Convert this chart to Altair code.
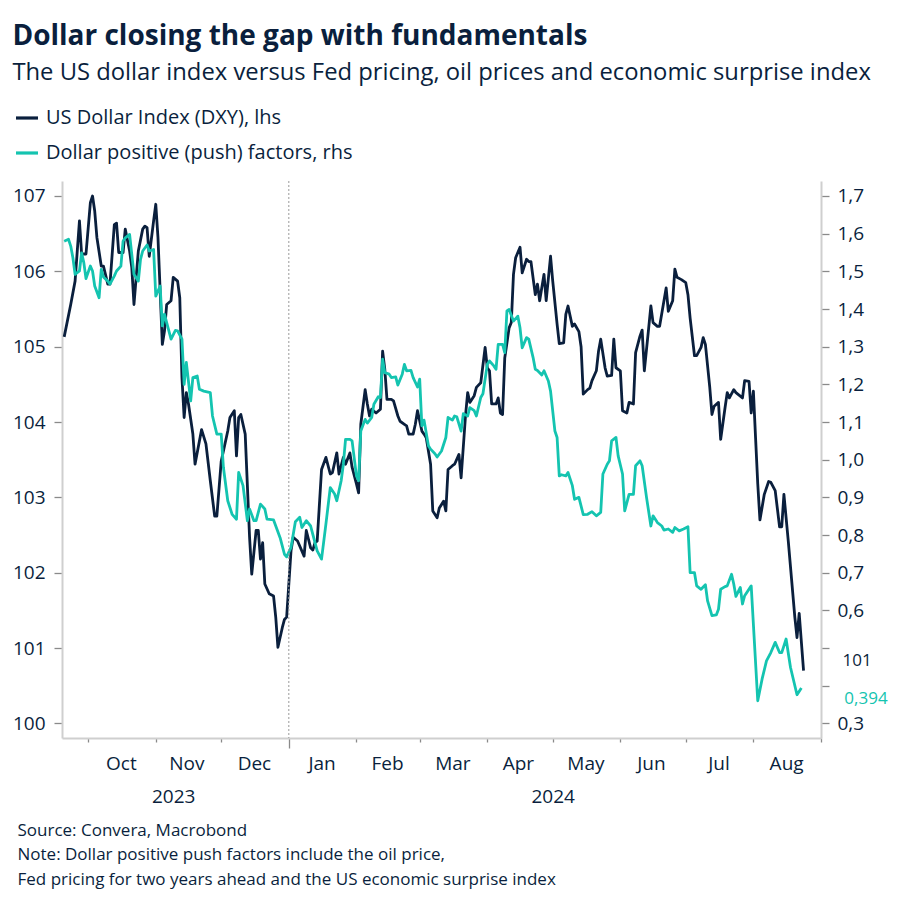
import altair as alt
import pandas as pd

NAVY = "#0a1f3d"
TEAL = "#14c4b0"
AXIS_GREY = "#cfcfcf"
TICK_GREY = "#8a8a8a"
FONT = "Open Sans"

# ---- US Dollar Index (DXY), left axis ----
dxy_dates = [
    "2023-09-20", "2023-09-23", "2023-09-25", "2023-09-27", "2023-09-28", "2023-09-30",
    "2023-10-02", "2023-10-03", "2023-10-04", "2023-10-05", "2023-10-07", "2023-10-08",
    "2023-10-10", "2023-10-11", "2023-10-13", "2023-10-14", "2023-10-15", "2023-10-17",
    "2023-10-18", "2023-10-20", "2023-10-21", "2023-10-22", "2023-10-24", "2023-10-26",
    "2023-10-27", "2023-10-28", "2023-10-29", "2023-10-31", "2023-11-01", "2023-11-02",
    "2023-11-04", "2023-11-05", "2023-11-06", "2023-11-08", "2023-11-09", "2023-11-11",
    "2023-11-12", "2023-11-13", "2023-11-14", "2023-11-15", "2023-11-16", "2023-11-18",
    "2023-11-19", "2023-11-22", "2023-11-24", "2023-11-26", "2023-11-28", "2023-11-29",
    "2023-12-01", "2023-12-04", "2023-12-05", "2023-12-07", "2023-12-08", "2023-12-09",
    "2023-12-10", "2023-12-12", "2023-12-14", "2023-12-15", "2023-12-17", "2023-12-18",
    "2023-12-19", "2023-12-20", "2023-12-21", "2023-12-23", "2023-12-25", "2023-12-26",
    "2023-12-27", "2023-12-29", "2023-12-30", "2023-12-31", "2024-01-02", "2024-01-03",
    "2024-01-05", "2024-01-08", "2024-01-09", "2024-01-11", "2024-01-12", "2024-01-13",
    "2024-01-14", "2024-01-16", "2024-01-18", "2024-01-20", "2024-01-21", "2024-01-23",
    "2024-01-24", "2024-01-26", "2024-01-27", "2024-01-29", "2024-01-30", "2024-02-01",
    "2024-02-02", "2024-02-03", "2024-02-05", "2024-02-06", "2024-02-07", "2024-02-08",
    "2024-02-10", "2024-02-12", "2024-02-13", "2024-02-14", "2024-02-15", "2024-02-17",
    "2024-02-18", "2024-02-20", "2024-02-21", "2024-02-23", "2024-02-24", "2024-02-25",
    "2024-02-27", "2024-02-28", "2024-02-29", "2024-03-02", "2024-03-03", "2024-03-04",
    "2024-03-06", "2024-03-07", "2024-03-09", "2024-03-10", "2024-03-12", "2024-03-13",
    "2024-03-14", "2024-03-16", "2024-03-17", "2024-03-19", "2024-03-20", "2024-03-22",
    "2024-03-23", "2024-03-24", "2024-03-26", "2024-03-27", "2024-03-29", "2024-03-31",
    "2024-04-01", "2024-04-02", "2024-04-03", "2024-04-05", "2024-04-06", "2024-04-07",
    "2024-04-08", "2024-04-09", "2024-04-11", "2024-04-12", "2024-04-13", "2024-04-14",
    "2024-04-16", "2024-04-17", "2024-04-19", "2024-04-20", "2024-04-21", "2024-04-23",
    "2024-04-24", "2024-04-25", "2024-04-27", "2024-04-28", "2024-04-30", "2024-05-01",
    "2024-05-03", "2024-05-04", "2024-05-06", "2024-05-07", "2024-05-08", "2024-05-10",
    "2024-05-11", "2024-05-13", "2024-05-14", "2024-05-15", "2024-05-17", "2024-05-18",
    "2024-05-19", "2024-05-21", "2024-05-22", "2024-05-23", "2024-05-25", "2024-05-26",
    "2024-05-28", "2024-05-29", "2024-05-30", "2024-06-01", "2024-06-02", "2024-06-04",
    "2024-06-05", "2024-06-07", "2024-06-08", "2024-06-10", "2024-06-11", "2024-06-12",
    "2024-06-14", "2024-06-15", "2024-06-16", "2024-06-18", "2024-06-19", "2024-06-21",
    "2024-06-22", "2024-06-23", "2024-06-25", "2024-06-26", "2024-06-27", "2024-06-29",
    "2024-07-01", "2024-07-02", "2024-07-03", "2024-07-05", "2024-07-06", "2024-07-08",
    "2024-07-09", "2024-07-10", "2024-07-12", "2024-07-13", "2024-07-14", "2024-07-16",
    "2024-07-17", "2024-07-19", "2024-07-20", "2024-07-21", "2024-07-23", "2024-07-24",
    "2024-07-27", "2024-07-28", "2024-07-30", "2024-07-31", "2024-08-01", "2024-08-02",
    "2024-08-03", "2024-08-04", "2024-08-06", "2024-08-08", "2024-08-09", "2024-08-11",
    "2024-08-13", "2024-08-14", "2024-08-15", "2024-08-17", "2024-08-20", "2024-08-21",
    "2024-08-22", "2024-08-24",
]
dxy_values = [
    105.13, 105.56, 105.87, 106.67, 106.23, 106.23,
    106.91, 107.00, 106.80, 106.45, 106.07, 106.07,
    105.83, 105.83, 106.62, 106.64, 106.25, 106.25,
    106.56, 106.27, 106.05, 105.56, 106.27, 106.56,
    106.60, 106.58, 106.20, 106.67, 106.89, 106.45,
    105.03, 105.21, 105.56, 105.61, 105.92, 105.87,
    105.65, 104.59, 104.06, 104.39, 104.24, 103.84,
    103.44, 103.90, 103.71, 103.22, 102.75, 102.75,
    103.48, 103.88, 104.06, 104.15, 103.55, 104.06,
    104.10, 103.84, 102.47, 101.98, 102.56, 102.56,
    102.18, 102.40, 101.85, 101.72, 101.69, 101.41,
    101.01, 101.27, 101.38, 101.41, 102.29, 102.47,
    102.42, 102.22, 102.56, 102.33, 102.30, 102.40,
    102.42, 103.37, 103.53, 103.31, 103.33, 103.59,
    103.31, 103.53, 103.44, 103.59, 103.40, 103.18,
    103.06, 103.97, 104.43, 104.24, 104.08, 104.17,
    104.12, 104.17, 104.94, 104.70, 104.30, 104.30,
    104.28, 104.08, 104.01, 103.97, 103.95, 103.84,
    103.84, 103.97, 104.15, 103.88, 103.84, 103.79,
    103.44, 102.82, 102.73, 102.86, 102.95, 102.82,
    103.37, 103.42, 103.44, 103.57, 103.26, 104.08,
    104.39, 104.26, 104.35, 104.46, 104.52, 104.99,
    104.72, 104.68, 104.24, 104.24, 104.32, 104.12,
    104.10, 104.85, 105.25, 105.32, 105.96, 106.18,
    106.32, 105.98, 106.16, 106.13, 106.13, 105.69,
    105.83, 105.61, 105.96, 105.61, 106.20, 105.87,
    105.30, 105.04, 105.05, 105.43, 105.54, 105.27,
    105.30, 105.20, 105.00, 104.37, 104.43, 104.45,
    104.55, 104.68, 104.94, 105.10, 104.72, 104.61,
    104.62, 105.10, 104.72, 104.68, 104.15, 104.12,
    104.26, 104.24, 104.92, 105.14, 105.22, 104.68,
    105.25, 105.54, 105.32, 105.27, 105.27, 105.61,
    105.78, 105.47, 105.61, 106.03, 105.92, 105.89,
    105.85, 105.69, 105.38, 104.88, 104.88, 104.99,
    105.12, 105.03, 104.46, 104.10, 104.21, 104.26,
    103.77, 104.19, 104.39, 104.32, 104.43, 104.39,
    104.32, 104.55, 104.54, 104.12, 104.41, 103.79,
    103.18, 102.70, 103.04, 103.21, 103.20, 103.09,
    102.61, 102.61, 103.04, 102.42, 101.41, 101.14,
    101.46, 100.70,
]

# ---- Dollar positive (push) factors, right axis ----
push_dates = [
    "2023-09-20", "2023-09-22", "2023-09-23", "2023-09-24", "2023-09-25", "2023-09-27",
    "2023-09-28", "2023-09-29", "2023-09-30", "2023-10-02", "2023-10-03", "2023-10-04",
    "2023-10-06", "2023-10-07", "2023-10-08", "2023-10-10", "2023-10-11", "2023-10-13",
    "2023-10-14", "2023-10-16", "2023-10-17", "2023-10-18", "2023-10-20", "2023-10-21",
    "2023-10-22", "2023-10-24", "2023-10-25", "2023-10-26", "2023-10-28", "2023-10-29",
    "2023-10-31", "2023-11-01", "2023-11-03", "2023-11-04", "2023-11-05", "2023-11-07",
    "2023-11-08", "2023-11-10", "2023-11-11", "2023-11-13", "2023-11-14", "2023-11-15",
    "2023-11-17", "2023-11-18", "2023-11-20", "2023-11-21", "2023-11-23", "2023-11-26",
    "2023-11-27", "2023-11-29", "2023-12-01", "2023-12-02", "2023-12-04", "2023-12-06",
    "2023-12-08", "2023-12-09", "2023-12-11", "2023-12-13", "2023-12-14", "2023-12-16",
    "2023-12-17", "2023-12-19", "2023-12-21", "2023-12-22", "2023-12-25", "2023-12-28",
    "2023-12-30", "2023-12-31", "2024-01-02", "2024-01-04", "2024-01-06", "2024-01-07",
    "2024-01-09", "2024-01-11", "2024-01-12", "2024-01-14", "2024-01-16", "2024-01-18",
    "2024-01-20", "2024-01-22", "2024-01-23", "2024-01-25", "2024-01-26", "2024-01-27",
    "2024-01-29", "2024-01-30", "2024-02-01", "2024-02-02", "2024-02-03", "2024-02-05",
    "2024-02-06", "2024-02-08", "2024-02-09", "2024-02-11", "2024-02-12", "2024-02-13",
    "2024-02-14", "2024-02-16", "2024-02-17", "2024-02-19", "2024-02-20", "2024-02-22",
    "2024-02-23", "2024-02-24", "2024-02-26", "2024-02-27", "2024-02-29", "2024-03-01",
    "2024-03-02", "2024-03-03", "2024-03-05", "2024-03-06", "2024-03-08", "2024-03-09",
    "2024-03-11", "2024-03-13", "2024-03-14", "2024-03-16", "2024-03-17", "2024-03-18",
    "2024-03-20", "2024-03-21", "2024-03-23", "2024-03-24", "2024-03-26", "2024-03-27",
    "2024-03-29", "2024-03-30", "2024-04-01", "2024-04-02", "2024-04-04", "2024-04-05",
    "2024-04-06", "2024-04-08", "2024-04-09", "2024-04-10", "2024-04-11", "2024-04-13",
    "2024-04-15", "2024-04-16", "2024-04-17", "2024-04-19", "2024-04-20", "2024-04-22",
    "2024-04-23", "2024-04-24", "2024-04-26", "2024-04-27", "2024-04-29", "2024-04-30",
    "2024-05-02", "2024-05-03", "2024-05-04", "2024-05-05", "2024-05-07", "2024-05-08",
    "2024-05-10", "2024-05-11", "2024-05-13", "2024-05-15", "2024-05-17", "2024-05-19",
    "2024-05-21", "2024-05-23", "2024-05-24", "2024-05-26", "2024-05-27", "2024-05-28",
    "2024-05-30", "2024-05-31", "2024-06-02", "2024-06-03", "2024-06-05", "2024-06-07",
    "2024-06-08", "2024-06-10", "2024-06-11", "2024-06-13", "2024-06-15", "2024-06-16",
    "2024-06-18", "2024-06-20", "2024-06-21", "2024-06-23", "2024-06-25", "2024-06-26",
    "2024-06-28", "2024-06-30", "2024-07-02", "2024-07-03", "2024-07-05", "2024-07-06",
    "2024-07-08", "2024-07-10", "2024-07-11", "2024-07-13", "2024-07-15", "2024-07-16",
    "2024-07-17", "2024-07-19", "2024-07-20", "2024-07-22", "2024-07-23", "2024-07-24",
    "2024-07-26", "2024-07-27", "2024-07-28", "2024-07-31", "2024-08-03", "2024-08-05",
    "2024-08-07", "2024-08-09", "2024-08-11", "2024-08-13", "2024-08-14", "2024-08-16",
    "2024-08-18", "2024-08-21", "2024-08-23",
]
push_values = [
    1.580, 1.585, 1.567, 1.536, 1.492, 1.501,
    1.549, 1.523, 1.481, 1.514, 1.501, 1.461,
    1.430, 1.505, 1.485, 1.474, 1.466, 1.488,
    1.501, 1.514, 1.580, 1.589, 1.598, 1.545,
    1.492, 1.474, 1.532, 1.554, 1.570, 1.554,
    1.558, 1.434, 1.461, 1.355, 1.386, 1.342,
    1.320, 1.343, 1.342, 1.320, 1.200, 1.258,
    1.156, 1.218, 1.222, 1.187, 1.182, 1.178,
    1.116, 1.068, 1.068, 0.980, 0.891, 0.855,
    0.842, 0.966, 0.931, 0.838, 0.869, 0.838,
    0.838, 0.882, 0.869, 0.842, 0.840, 0.793,
    0.749, 0.742, 0.767, 0.835, 0.847, 0.820,
    0.838, 0.824, 0.802, 0.758, 0.736, 0.829,
    0.926, 0.909, 0.891, 0.944, 0.988, 1.054,
    1.054, 1.050, 0.957, 0.944, 1.076, 1.107,
    1.097, 1.112, 1.147, 1.167, 1.165, 1.267,
    1.231, 1.227, 1.218, 1.220, 1.198, 1.227,
    1.253, 1.236, 1.237, 1.218, 1.193, 1.214,
    1.090, 1.105, 1.037, 1.028, 1.016, 1.007,
    1.023, 1.059, 1.112, 1.105, 1.116, 1.114,
    1.076, 1.122, 1.116, 1.138, 1.130, 1.116,
    1.165, 1.175, 1.253, 1.262, 1.249, 1.240,
    1.306, 1.306, 1.284, 1.395, 1.399, 1.368,
    1.381, 1.350, 1.297, 1.324, 1.320, 1.271,
    1.240, 1.237, 1.225, 1.236, 1.209, 1.182,
    1.076, 1.059, 0.957, 0.960, 0.957, 0.966,
    0.931, 0.895, 0.900, 0.854, 0.855, 0.862,
    0.851, 0.860, 0.962, 0.988, 0.997, 1.050,
    1.059, 1.010, 0.962, 0.864, 0.908, 0.908,
    0.984, 0.997, 0.984, 0.900, 0.824, 0.851,
    0.833, 0.824, 0.813, 0.816, 0.807, 0.820,
    0.811, 0.816, 0.822, 0.700, 0.700, 0.665,
    0.656, 0.668, 0.625, 0.586, 0.588, 0.603,
    0.656, 0.663, 0.665, 0.696, 0.670, 0.637,
    0.661, 0.617, 0.639, 0.665, 0.360, 0.418,
    0.466, 0.488, 0.515, 0.488, 0.488, 0.524,
    0.449, 0.376, 0.394,
]

series_names = ["US Dollar Index (DXY), lhs", "Dollar positive (push) factors, rhs"]

# ---- axes / ticks ----
month_starts = ["2023-10-01", "2023-11-01", "2023-12-01", "2024-01-01", "2024-02-01",
                "2024-03-01", "2024-04-01", "2024-05-01", "2024-06-01", "2024-07-01",
                "2024-08-01", "2024-09-01"]
month_mids = ["2023-10-16", "2023-11-15", "2023-12-16", "2024-01-16", "2024-02-15",
              "2024-03-16", "2024-04-15", "2024-05-16", "2024-06-15", "2024-07-16",
              "2024-08-16"]
year_mids = ["2023-11-09", "2024-05-01"]
year_break = ["2024-01-01"]
x_domain = ["2023-09-19", "2024-09-01"]
left_ticks = [100, 101, 102, 103, 104, 105, 106, 107]
right_ticks = [0.3, 0.4, 0.5, 0.6, 0.7, 0.8, 0.9, 1.0, 1.1, 1.2, 1.3, 1.4, 1.5, 1.6, 1.7]
left_domain = [99.806, 107.199]
right_domain = [0.2612, 1.7398]

title_text = "Dollar closing the gap with fundamentals"
subtitle_text = "The US dollar index versus Fed pricing, oil prices and economic surprise index"
footer_lines = [
    "Source: Convera, Macrobond",
    "Note: Dollar positive push factors include the oil price,",
    "Fed pricing for two years ahead and the US economic surprise index",
]


def dt(s):
    y, m, d = (int(p) for p in s.split("-"))
    return alt.DateTime(year=y, month=m, date=d, utc=True)


dxy_df = pd.DataFrame({"date": dxy_dates, "value": dxy_values, "series": series_names[0]})
push_df = pd.DataFrame({"date": push_dates, "value": push_values, "series": series_names[1]})
break_df = pd.DataFrame({"date": year_break})
dxy_end = pd.DataFrame({"date": [dxy_dates[-1]], "value": [dxy_values[-1]],
                        "label": [f"{round(dxy_values[-1]):d}"]})
push_end = pd.DataFrame({"date": [push_dates[-1]], "value": [push_values[-1]],
                         "label": [f"{push_values[-1]:.3f}".replace(".", ",")]})

x_scale = alt.Scale(type="utc", domain=[dt(s) for s in x_domain])
left_scale = alt.Scale(domain=left_domain, nice=False, zero=False)
right_scale = alt.Scale(domain=right_domain, nice=False, zero=False)
color_scale = alt.Scale(domain=series_names, range=[NAVY, TEAL])

legend = alt.Legend(
    title=None, orient="none", legendX=-48, legendY=-76, direction="vertical",
    symbolType="stroke", symbolSize=484, symbolStrokeWidth=3.2, padding=0,
    labelFont=FONT, labelFontSize=20, labelColor=NAVY, labelOffset=6, rowPadding=12,
    labelLimit=600,
)

tick_axis = alt.Axis(
    orient="bottom",
    values=[dt(s) for s in month_starts], labels=False, title=None, grid=False,
    tickSize={"condition": {"test": "utcmonth(datum.value) === 0", "value": 10}, "value": 4},
    tickColor=TICK_GREY, tickWidth=1.3, domainColor=AXIS_GREY, domainWidth=2,
)
month_axis = alt.Axis(
    orient="bottom",
    values=[dt(s) for s in month_mids], labelExpr="utcFormat(datum.value, '%b')",
    ticks=False, domain=False, grid=False, title=None, labelPadding=16,
    labelFont=FONT, labelFontSize=19, labelColor=NAVY, labelOverlap=False,
    labelFlush=False, labelBound=False,
)
year_axis = alt.Axis(
    orient="bottom",
    values=[dt(s) for s in year_mids], labelExpr="utcFormat(datum.value, '%Y')",
    ticks=False, domain=False, grid=False, labelPadding=49,
    labelFont=FONT, labelFontSize=19, labelColor=NAVY, labelOverlap=False,
    labelFlush=False, labelBound=False,
    title=footer_lines, titleX=-45, titleY=84, titleAlign="left", titleAnchor="start",
    titleBaseline="top", titleFont=FONT, titleFontSize=17, titleFontWeight="normal",
    titleColor=NAVY, titleLineHeight=24.5,
)
left_axis = alt.Axis(
    values=left_ticks, orient="left", title=None, grid=False, tickSize=8,
    tickColor=TICK_GREY, tickWidth=1.3, domainColor=AXIS_GREY, domainWidth=2,
    labelPadding=9, labelFont=FONT, labelFontSize=19, labelColor=NAVY,
    labelOverlap=False, labelFlush=False,
)
right_axis = alt.Axis(
    values=right_ticks, orient="right", title=None, grid=False, tickSize=8,
    tickColor=TICK_GREY, tickWidth=1.3, domainColor=AXIS_GREY, domainWidth=2,
    labelPadding=8, labelFont=FONT, labelFontSize=19, labelColor=NAVY,
    labelOverlap=False, labelFlush=False,
    labelExpr="(abs(datum.value - 0.5) < 0.001 || abs(datum.value - 0.4) < 0.001) ? '' : replace(format(datum.value, '.1f'), '.', ',')",
)

dxy_line = alt.Chart(dxy_df).mark_line(strokeWidth=2.8, strokeJoin="round").encode(
    x=alt.X("date:T", scale=x_scale, axis=tick_axis),
    y=alt.Y("value:Q", scale=left_scale, axis=left_axis),
    color=alt.Color("series:N", scale=color_scale, legend=legend),
)
push_line = alt.Chart(push_df).mark_line(strokeWidth=2.8, strokeJoin="round").encode(
    x=alt.X("date:T", scale=x_scale, axis=None),
    y=alt.Y("value:Q", scale=right_scale, axis=right_axis),
    color=alt.Color("series:N", scale=color_scale, legend=legend),
)
break_rule = alt.Chart(break_df).mark_rule(color="#9a9a9a", strokeDash=[2, 2], strokeWidth=1).encode(
    x=alt.X("date:T", scale=x_scale, axis=month_axis),
)
dxy_label = alt.Chart(dxy_end).mark_text(
    align="left", baseline="middle", dx=39, dy=-10, font=FONT, fontSize=17, color=NAVY
).encode(
    x=alt.X("date:T", scale=x_scale, axis=year_axis),
    y=alt.Y("value:Q", scale=left_scale, axis=None),
    text="label:N",
)
push_label = alt.Chart(push_end).mark_text(
    align="left", baseline="middle", dx=43, dy=11, font=FONT, fontSize=17, color=TEAL
).encode(
    x=alt.X("date:T", scale=x_scale, axis=None),
    y=alt.Y("value:Q", scale=right_scale, axis=None),
    text="label:N",
)

chart = (
    alt.layer(dxy_line, push_line, break_rule, dxy_label, push_label)
    .resolve_scale(y="independent")
    .resolve_axis(x="independent")
    .properties(
        width=759, height=557,
        padding={"left": 4, "top": 15, "right": 5, "bottom": 5},
        title=alt.TitleParams(
            text=title_text, subtitle=subtitle_text, anchor="start", frame="bounds",
            font=FONT, fontSize=28, fontWeight="bold", color=NAVY,
            subtitleFont=FONT, subtitleFontSize=23.8, subtitleColor=NAVY,
            subtitlePadding=10, offset=20,
        ),
    )
    .configure_view(stroke=None)
    .configure_axis(grid=False)
)

chart.save("out.html", embed_options={"renderer": "svg", "actions": False})
